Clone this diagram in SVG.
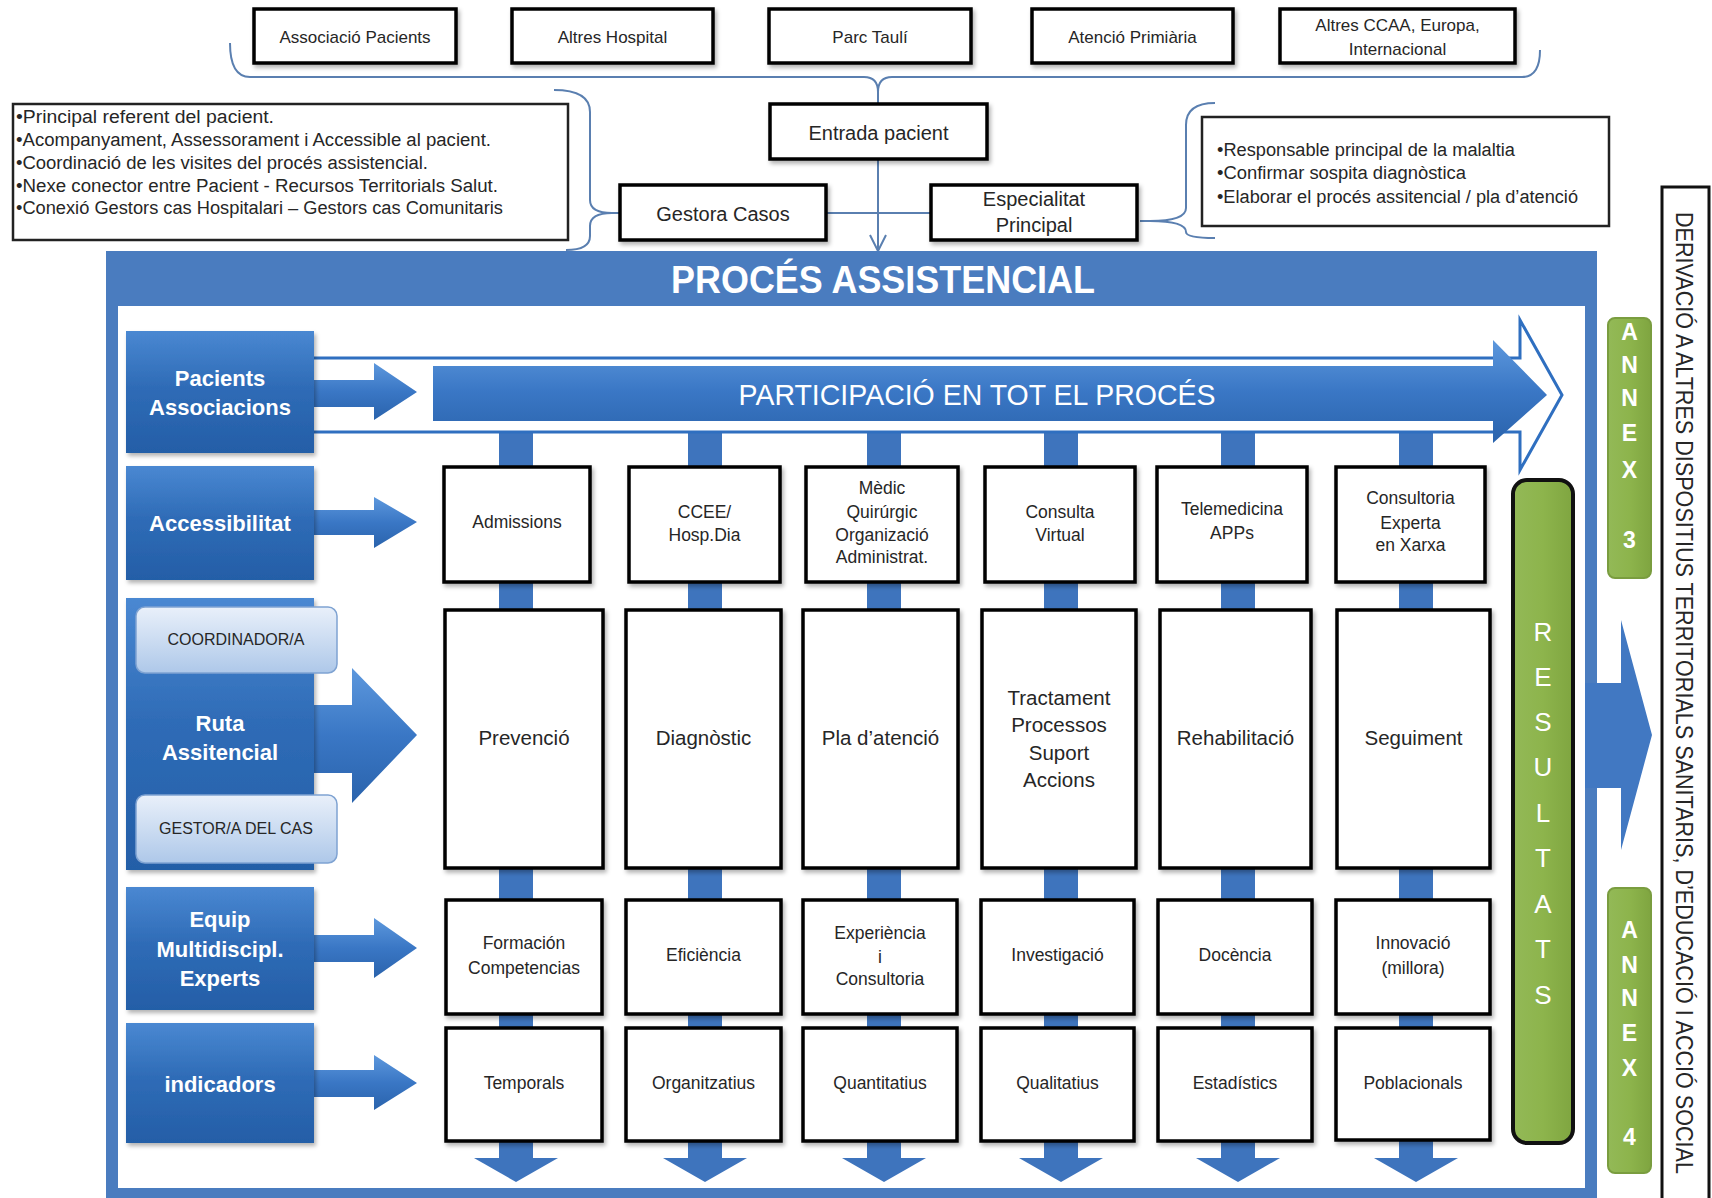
<svg xmlns="http://www.w3.org/2000/svg" width="1712" height="1198" viewBox="0 0 1712 1198">
<style>
.t{font-family:"Liberation Sans",Arial,sans-serif;fill:#262626}
.c{text-anchor:middle}
.wb{font-family:"Liberation Sans",Arial,sans-serif;fill:#fff;font-weight:bold;text-anchor:middle}
.box{fill:#fff;stroke:#000;stroke-width:3.5}
.info{fill:#fff;stroke:#222;stroke-width:2.5}
.conn{fill:none;stroke:#5a7fb0;stroke-width:2}
.bar{fill:#3e74bd}
.blk{fill:url(#gBlue)}
.arr{fill:url(#gArrow)}
.lt{fill:url(#gLight);stroke:#7fa3d2;stroke-width:1.5}
.gr{fill:url(#gGreen)}
.s16{font-size:16px}.s17{font-size:17px}.s175{font-size:17.5px}.s18{font-size:18px}.s20{font-size:20px}.s205{font-size:20.5px}.s22{font-size:22px}
</style>
<defs>
<linearGradient id="gBlue" x1="0" y1="0" x2="0" y2="1"><stop offset="0" stop-color="#4a88d2"/><stop offset="0.45" stop-color="#2f6cb7"/><stop offset="1" stop-color="#245ea7"/></linearGradient>
<linearGradient id="gArrow" x1="0" y1="0" x2="0" y2="1"><stop offset="0" stop-color="#5d98dd"/><stop offset="0.5" stop-color="#3a77c5"/><stop offset="1" stop-color="#2a63ac"/></linearGradient>
<linearGradient id="gLight" x1="0" y1="0" x2="0" y2="1"><stop offset="0" stop-color="#e9f0fa"/><stop offset="1" stop-color="#aec8e9"/></linearGradient>
<linearGradient id="gGreen" x1="0" y1="0" x2="1" y2="0"><stop offset="0" stop-color="#93b957"/><stop offset="0.5" stop-color="#8db44c"/><stop offset="1" stop-color="#7fa540"/></linearGradient>
<filter id="sh" x="-10%" y="-10%" width="130%" height="130%"><feDropShadow dx="2" dy="3" stdDeviation="2" flood-color="#000" flood-opacity="0.3"/></filter>
</defs>
<rect x="0" y="0" width="1712" height="1198" fill="#fff"/>

<!-- top source boxes -->
<g id="n-associacio"><rect class="box" x="254" y="9" width="202" height="54" filter="url(#sh)"/><text class="t c s17" x="355" y="43">Associació Pacients</text></g>
<g id="n-altres-hospital"><rect class="box" x="512" y="9" width="201" height="54" filter="url(#sh)"/><text class="t c s17" x="612.5" y="43">Altres Hospital</text></g>
<g id="n-parc-tauli"><rect class="box" x="769" y="9" width="202" height="54" filter="url(#sh)"/><text class="t c s17" x="870" y="43">Parc Taulí</text></g>
<g id="n-atencio-primaria"><rect class="box" x="1032" y="9" width="201" height="54" filter="url(#sh)"/><text class="t c s17" x="1132.5" y="43">Atenció Primiària</text></g>
<g id="n-altres-ccaa"><rect class="box" x="1280" y="9" width="235" height="54" filter="url(#sh)"/><text class="t c s17" x="1397.5" y="31">Altres CCAA, Europa,</text><text class="t c s17" x="1397.5" y="55">Internacional</text></g>

<!-- connectors -->
<g id="connectors">
<path class="conn" d="M230 43 Q230 77 250 77 H864 Q878 77 878 92 Q878 77 892 77 H1522 Q1540 77 1540 50"/>
<path class="conn" d="M878 92 V104"/>
<path class="conn" d="M878 159 V250 M870 235 L878 251 L886 235"/>
<path class="conn" d="M826 213 H931"/>
<path class="conn" d="M554 90 Q590 90 590 112 V200 Q590 213 612 213 H620 M612 213 Q590 213 590 226 V236 Q590 250 566 250"/>
<path class="conn" d="M1215 103 Q1186 103 1186 125 V208 Q1186 221 1150 221 H1140 M1150 221 Q1186 221 1186 232 Q1186 238 1215 238"/>
</g>

<g id="n-entrada"><rect class="box" x="770" y="104" width="217" height="55" filter="url(#sh)"/><text class="t c s20" x="878.5" y="140">Entrada pacient</text></g>
<g id="n-gestora"><rect class="box" x="620" y="185" width="206" height="55" filter="url(#sh)"/><text class="t c s20" x="723" y="221">Gestora Casos</text></g>
<g id="n-especialitat"><rect class="box" x="931" y="185" width="206" height="55" filter="url(#sh)"/><text class="t c s20" x="1034" y="206">Especialitat</text><text class="t c s20" x="1034" y="232">Principal</text></g>

<g id="n-info-gestora">
<rect class="info" x="13" y="104" width="555" height="136"/>
<text class="t s18" x="16" y="123" textLength="258" lengthAdjust="spacingAndGlyphs">•Principal referent del pacient.</text>
<text class="t s18" x="16" y="146" textLength="475" lengthAdjust="spacingAndGlyphs">•Acompanyament, Assessorament i Accessible al pacient.</text>
<text class="t s18" x="16" y="169" textLength="412" lengthAdjust="spacingAndGlyphs">•Coordinació de les visites del procés assistencial.</text>
<text class="t s18" x="16" y="192" textLength="482" lengthAdjust="spacingAndGlyphs">•Nexe conector entre Pacient - Recursos Territorials Salut.</text>
<text class="t s18" x="16" y="214" textLength="487" lengthAdjust="spacingAndGlyphs">•Conexió Gestors cas Hospitalari – Gestors cas Comunitaris</text>
</g>
<g id="n-info-especialitat">
<rect class="info" x="1202" y="117" width="407" height="109"/>
<text class="t s18" x="1217" y="156" textLength="298" lengthAdjust="spacingAndGlyphs">•Responsable principal de la malaltia</text>
<text class="t s18" x="1217" y="179" textLength="249" lengthAdjust="spacingAndGlyphs">•Confirmar sospita diagnòstica</text>
<text class="t s18" x="1217" y="203" textLength="361" lengthAdjust="spacingAndGlyphs">•Elaborar el procés assitencial / pla d’atenció</text>
</g>

<!-- main frame -->
<g id="n-proces">
<rect x="106" y="251" width="1491" height="947" fill="#4a7cbf"/>
<rect x="118" y="306" width="1467" height="882" fill="#fff"/>
<text class="wb" x="883" y="293" font-size="38" textLength="424" lengthAdjust="spacingAndGlyphs">PROCÉS ASSISTENCIAL</text>
</g>

<!-- vertical flow bars -->
<g id="flow-bars">
<rect class="bar" x="499" y="420" width="34" height="740"/>
<rect class="bar" x="688" y="420" width="34" height="740"/>
<rect class="bar" x="867" y="420" width="34" height="740"/>
<rect class="bar" x="1044" y="420" width="34" height="740"/>
<rect class="bar" x="1221" y="420" width="34" height="740"/>
<rect class="bar" x="1399" y="420" width="34" height="740"/>
<polygon class="bar" points="474,1158 558,1158 516,1182"/>
<polygon class="bar" points="663,1158 747,1158 705,1182"/>
<polygon class="bar" points="842,1158 926,1158 884,1182"/>
<polygon class="bar" points="1019,1158 1103,1158 1061,1182"/>
<polygon class="bar" points="1196,1158 1280,1158 1238,1182"/>
<polygon class="bar" points="1374,1158 1458,1158 1416,1182"/>
</g>

<!-- participation arrow -->
<g id="n-participacio">
<polygon points="300,358 1520,358 1520,320 1562,395 1520,470 1520,432 300,432" fill="#fff" stroke="#2f6fc0" stroke-width="3"/>
<polygon class="arr" points="433,366 1493,366 1493,340 1547,395 1493,443 1493,421 433,421"/>
<text class="t c" x="977" y="405" font-size="30" style="fill:#fff" textLength="477" lengthAdjust="spacingAndGlyphs">PARTICIPACIÓ EN TOT EL PROCÉS</text>
</g>

<!-- left labels -->
<g id="n-pacients">
<polygon class="arr" points="300,380 374,380 374,363 417,392 374,420 374,407 300,407"/>
<rect class="blk" x="126" y="331" width="188" height="122" filter="url(#sh)"/>
<text class="wb s22" x="220" y="386">Pacients</text><text class="wb s22" x="220" y="415">Associacions</text>
</g>
<g id="n-accessibilitat">
<polygon class="arr" points="300,510 374,510 374,497 417,522 374,548 374,535 300,535"/>
<rect class="blk" x="126" y="466" width="188" height="114" filter="url(#sh)"/>
<text class="wb s22" x="220" y="531">Accessibilitat</text>
</g>
<g id="n-ruta">
<polygon class="arr" points="300,705 352,705 352,668 417,735 352,803 352,773 300,773"/>
<rect class="blk" x="126" y="598" width="188" height="272" filter="url(#sh)"/>
<text class="wb s22" x="220" y="731">Ruta</text><text class="wb s22" x="220" y="760">Assitencial</text>
<rect class="lt" x="136" y="607" width="201" height="66" rx="9"/>
<text class="t c s16" x="236" y="645">COORDINADOR/A</text>
<rect class="lt" x="136" y="795" width="201" height="68" rx="9"/>
<text class="t c s16" x="236" y="834">GESTOR/A  DEL CAS</text>
</g>
<g id="n-equip">
<polygon class="arr" points="300,935 374,935 374,918 417,948 374,978 374,962 300,962"/>
<rect class="blk" x="126" y="887" width="188" height="123" filter="url(#sh)"/>
<text class="wb s22" x="220" y="927">Equip</text><text class="wb s22" x="220" y="957">Multidiscipl.</text><text class="wb s22" x="220" y="986">Experts</text>
</g>
<g id="n-indicadors">
<polygon class="arr" points="300,1070 374,1070 374,1055 417,1083 374,1110 374,1097 300,1097"/>
<rect class="blk" x="126" y="1023" width="188" height="120" filter="url(#sh)"/>
<text class="wb s22" x="220" y="1092">indicadors</text>
</g>

<!-- row 1 -->
<g id="n-admissions"><rect class="box" x="444" y="467" width="146" height="115" filter="url(#sh)"/><text class="t c s175" x="517" y="528">Admissions</text></g>
<g id="n-ccee"><rect class="box" x="629" y="467" width="151" height="115" filter="url(#sh)"/><text class="t c s175" x="704.5" y="518">CCEE/</text><text class="t c s175" x="704.5" y="541">Hosp.Dia</text></g>
<g id="n-medic"><rect class="box" x="806" y="467" width="152" height="115" filter="url(#sh)"/><text class="t c s175" x="882" y="494">Mèdic</text><text class="t c s175" x="882" y="518">Quirúrgic</text><text class="t c s175" x="882" y="541">Organizació</text><text class="t c s175" x="882" y="563">Administrat.</text></g>
<g id="n-consulta"><rect class="box" x="985" y="467" width="150" height="115" filter="url(#sh)"/><text class="t c s175" x="1060" y="518">Consulta</text><text class="t c s175" x="1060" y="541">Virtual</text></g>
<g id="n-telemedicina"><rect class="box" x="1157" y="467" width="150" height="115" filter="url(#sh)"/><text class="t c s175" x="1232" y="515">Telemedicina</text><text class="t c s175" x="1232" y="539">APPs</text></g>
<g id="n-consultoria"><rect class="box" x="1336" y="467" width="149" height="115" filter="url(#sh)"/><text class="t c s175" x="1410.5" y="504">Consultoria</text><text class="t c s175" x="1410.5" y="529">Experta</text><text class="t c s175" x="1410.5" y="551">en Xarxa</text></g>

<!-- row 2 -->
<g id="n-prevencio"><rect class="box" x="445" y="610" width="158" height="258" filter="url(#sh)"/><text class="t c s205" x="524" y="745">Prevenció</text></g>
<g id="n-diagnostic"><rect class="box" x="626" y="610" width="155" height="258" filter="url(#sh)"/><text class="t c s205" x="703.5" y="745">Diagnòstic</text></g>
<g id="n-pla"><rect class="box" x="803" y="610" width="155" height="258" filter="url(#sh)"/><text class="t c s205" x="880.5" y="745">Pla d’atenció</text></g>
<g id="n-tractament"><rect class="box" x="982" y="610" width="154" height="258" filter="url(#sh)"/><text class="t c s205" x="1059" y="705">Tractament</text><text class="t c s205" x="1059" y="732">Processos</text><text class="t c s205" x="1059" y="760">Suport</text><text class="t c s205" x="1059" y="787">Accions</text></g>
<g id="n-rehabilitacio"><rect class="box" x="1160" y="610" width="151" height="258" filter="url(#sh)"/><text class="t c s205" x="1235.5" y="745">Rehabilitació</text></g>
<g id="n-seguiment"><rect class="box" x="1337" y="610" width="153" height="258" filter="url(#sh)"/><text class="t c s205" x="1413.5" y="745">Seguiment</text></g>

<!-- row 3 -->
<g id="n-formacion"><rect class="box" x="446" y="900" width="156" height="114" filter="url(#sh)"/><text class="t c s175" x="524" y="949">Formación</text><text class="t c s175" x="524" y="974">Competencias</text></g>
<g id="n-eficiencia"><rect class="box" x="626" y="900" width="155" height="114" filter="url(#sh)"/><text class="t c s175" x="703.5" y="961">Eficiència</text></g>
<g id="n-experiencia"><rect class="box" x="803" y="900" width="154" height="114" filter="url(#sh)"/><text class="t c s175" x="880" y="939">Experiència</text><text class="t c s175" x="880" y="963">i</text><text class="t c s175" x="880" y="985">Consultoria</text></g>
<g id="n-investigacio"><rect class="box" x="981" y="900" width="153" height="114" filter="url(#sh)"/><text class="t c s175" x="1057.5" y="961">Investigació</text></g>
<g id="n-docencia"><rect class="box" x="1158" y="900" width="154" height="114" filter="url(#sh)"/><text class="t c s175" x="1235" y="961">Docència</text></g>
<g id="n-innovacio"><rect class="box" x="1336" y="900" width="154" height="114" filter="url(#sh)"/><text class="t c s175" x="1413" y="949">Innovació</text><text class="t c s175" x="1413" y="974">(millora)</text></g>

<!-- row 4 -->
<g id="n-temporals"><rect class="box" x="446" y="1028" width="156" height="113" filter="url(#sh)"/><text class="t c s175" x="524" y="1089">Temporals</text></g>
<g id="n-organitzatius"><rect class="box" x="626" y="1028" width="155" height="113" filter="url(#sh)"/><text class="t c s175" x="703.5" y="1089">Organitzatius</text></g>
<g id="n-quantitatius"><rect class="box" x="803" y="1028" width="154" height="113" filter="url(#sh)"/><text class="t c s175" x="880" y="1089">Quantitatius</text></g>
<g id="n-qualitatius"><rect class="box" x="981" y="1028" width="153" height="113" filter="url(#sh)"/><text class="t c s175" x="1057.5" y="1089">Qualitatius</text></g>
<g id="n-estadistics"><rect class="box" x="1158" y="1028" width="154" height="113" filter="url(#sh)"/><text class="t c s175" x="1235" y="1089">Estadístics</text></g>
<g id="n-poblacionals"><rect class="box" x="1336" y="1028" width="154" height="112" filter="url(#sh)"/><text class="t c s175" x="1413" y="1089">Poblacionals</text></g>

<!-- resultats -->
<g id="n-resultats">
<rect class="gr" x="1513" y="480" width="60" height="663" rx="14" stroke="#111" stroke-width="4"/>
<g class="wb" font-size="26" style="font-weight:normal">
<text x="1543" y="641">R</text><text x="1543" y="686">E</text><text x="1543" y="731">S</text><text x="1543" y="776">U</text><text x="1543" y="822">L</text><text x="1543" y="867">T</text><text x="1543" y="913">A</text><text x="1543" y="958">T</text><text x="1543" y="1004">S</text>
</g>
</g>

<!-- annex -->
<g id="n-annex3">
<rect class="gr" x="1608" y="318" width="43" height="260" rx="7" stroke="#7a9d3f" stroke-width="2"/>
<g class="wb" font-size="23">
<text x="1629.5" y="340">A</text><text x="1629.5" y="373">N</text><text x="1629.5" y="406">N</text><text x="1629.5" y="441">E</text><text x="1629.5" y="478">X</text><text x="1629.5" y="548">3</text>
</g>
</g>
<g id="n-annex4">
<rect class="gr" x="1608" y="888" width="43" height="285" rx="7" stroke="#7a9d3f" stroke-width="2"/>
<g class="wb" font-size="23">
<text x="1629.5" y="938">A</text><text x="1629.5" y="973">N</text><text x="1629.5" y="1006">N</text><text x="1629.5" y="1041">E</text><text x="1629.5" y="1076">X</text><text x="1629.5" y="1145">4</text>
</g>
</g>

<!-- outgoing arrow -->
<g id="n-out-arrow">
<polygon points="1585,683 1621,683 1621,620 1652,735 1621,850 1621,788 1585,788" fill="#4178c2"/>
</g>

<!-- derivacio box -->
<g id="n-derivacio">
<path d="M1662 1198 V187 H1709 V1198" fill="#fff" stroke="#111" stroke-width="3"/>
<text class="t" x="1684" y="212" writing-mode="vertical-rl" font-size="24" textLength="962" lengthAdjust="spacingAndGlyphs">DERIVACIÓ A ALTRES DISPOSITIUS TERRITORIALS SANITARIS, D’EDUCACIÓ I ACCIÓ SOCIAL</text>
</g>
</svg>
